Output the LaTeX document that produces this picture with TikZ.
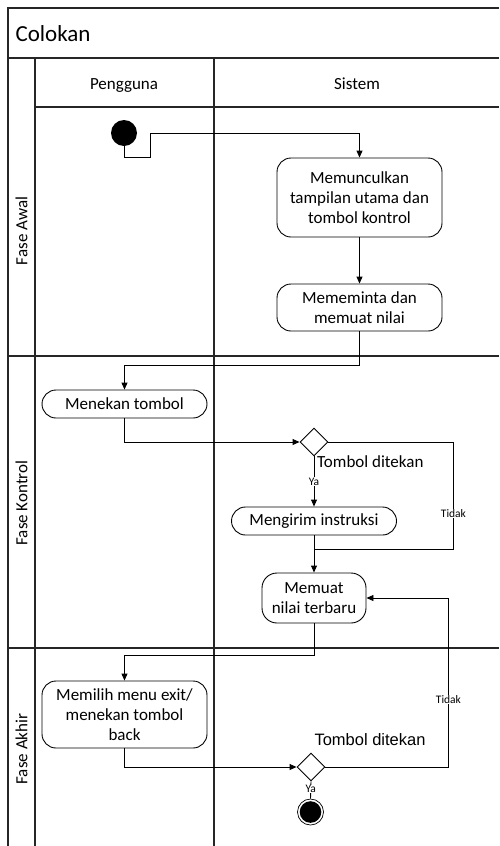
\documentclass[tikz,border=0pt]{standalone}
\usepackage{fontspec}
\setmainfont{Carlito}
\newfontfamily\arialf{Liberation Sans}
\usetikzlibrary{arrows.meta,shapes.geometric}
\begin{document}
\begin{tikzpicture}[x=1pt,y=-1pt,
  frame/.style={line width=1.2pt,draw=black!85},
  act/.style={draw,line width=0.9pt,rounded corners=14pt,align=center,inner sep=2pt,
     font=\fontsize{17}{20}\selectfont},
  dec/.style={draw,line width=0.9pt,diamond,minimum width=28pt,minimum height=28pt,inner sep=0pt},
  flow/.style={line width=0.9pt,-{Triangle[length=7pt,width=6pt]}},
  line/.style={line width=0.9pt},
  small/.style={fill=white,inner sep=0.5pt,font=\fontsize{11.5}{12}\selectfont},
  lane/.style={rotate=90,font=\fontsize{17}{19}\selectfont},
  hdr/.style={font=\fontsize{17}{19}\selectfont,anchor=base}]
\useasboundingbox (0,0) rectangle (499,846);
% frame
\draw[frame] (499,8) -- (8,8) -- (8,846);
\draw[frame] (8,58) -- (499,58);
\draw[frame] (35,58) -- (35,846);
\draw[frame] (35,107) -- (499,107);
\draw[frame] (214,58) -- (214,846);
\draw[frame] (8,356) -- (499,356);
\draw[frame] (8,648) -- (499,648);
\node[anchor=west,font=\fontsize{23}{25}\selectfont] (title) at (12,34) {Colokan};
\node[hdr] (hp) at (124,89) {Pengguna};
\node[hdr] (hs) at (357,89) {Sistem};
\node[lane] (l1) at (21.5,231) {Fase Awal};
\node[lane] (l2) at (21.5,503) {Fase Kontrol};
\node[lane] (l3) at (21.5,749) {Fase Akhir};
% nodes
\node[circle,fill=black,minimum size=26pt,inner sep=0pt] (init) at (124,133) {};
\node[act,minimum width=165pt,minimum height=79pt] (n1) at (359.5,197.5) {Memunculkan\\tampilan utama dan\\tombol kontrol};
\node[act,minimum width=165pt,minimum height=47pt] (n2) at (359.5,307.5) {Mememinta dan\\memuat nilai};
\node[act,minimum width=165pt,minimum height=28pt] (n3) at (124.5,404) {Menekan tombol};
\node[dec] (d1) at (314,442) {};
\node[act,minimum width=165pt,minimum height=28pt] (n4) at (314,521) {Mengirim instruksi};
\node[act,minimum width=104pt,minimum height=50pt,rounded corners=15pt] (n5) at (314,598) {Memuat\\nilai terbaru};
\node[act,minimum width=165pt,minimum height=67pt] (n6) at (124.5,714.5) {Memilih menu exit/\\menekan tombol\\back};
\node[dec] (d2) at (311,767) {};
\node[circle,draw,line width=0.7pt,minimum size=26pt,inner sep=0pt] (fin) at (310.5,812) {};
\fill (fin.center) circle (10.8pt);
\node[anchor=west,font=\fontsize{17}{19}\selectfont,inner sep=0pt] (t1) at (317,462) {Tombol ditekan};
\node[font=\arialf\fontsize{16.5}{18}\selectfont,inner sep=0pt] (t2) at (370,740) {Tombol ditekan};
% connectors
\draw[flow] (init.south) -- ++(0,11) -- ++(26,0) -- ++(0,-24) -| (n1.north);
\draw[flow] (n1) -- (n2);
\draw[flow] (n2.south) -- ++(0,34) -| (n3.north);
\draw[flow] (n3.south) |- (d1.west);
\draw[flow] (d1.south) -- node[small,pos=0.5] {Ya} (n4.north);
\draw[line] (d1.east) -- ++(125,0) coordinate (c1) -- node[small,pos=0.67] {Tidak} ++(0,107) -- ++(-139,0);
\draw[flow] (n4) -- (n5);
\draw[flow] (n5.south) -- ++(0,32) -| (n6.north);
\draw[flow] (n6.south) |- (d2.west);
\draw[flow] (d2.east) -- ++(123,0) coordinate (c2) -- node[small,pos=0.4] {Tidak} ++(0,-169) -- (n5.east);
\draw[line] (d2.south) -- node[small,pos=0.45] {Ya} (fin.north);
\end{tikzpicture}
\end{document}
